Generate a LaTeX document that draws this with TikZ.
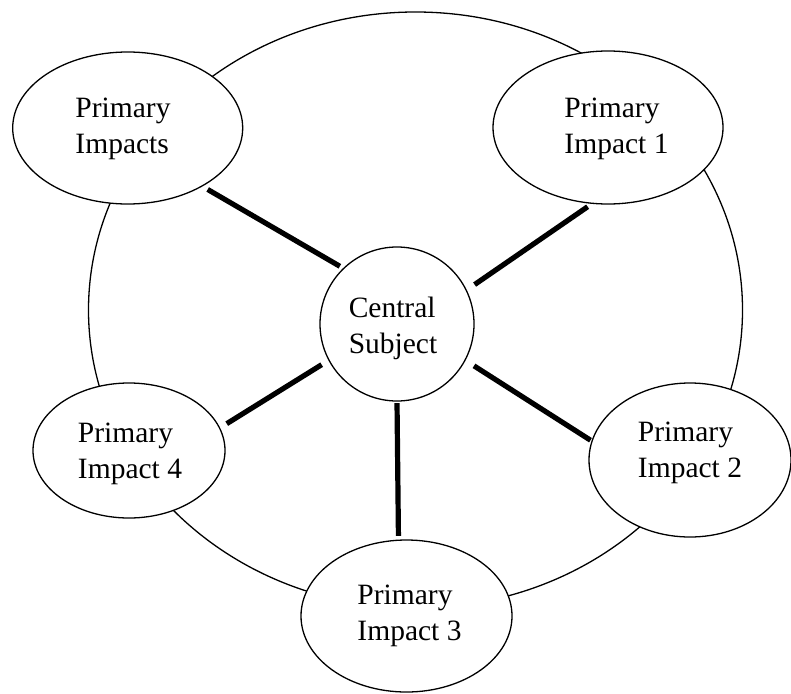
\documentclass[tikz,border=0pt]{standalone}
\usepackage{fontspec}
\setmainfont{Liberation Serif}
\usetikzlibrary{shapes.geometric}
\begin{document}
\begin{tikzpicture}[x=1pt,y=-1pt,
  ring/.style={line width=1.3pt},
  bubble/.style={ellipse, draw, line width=1.3pt, fill=white, inner sep=0pt},
  hub/.style={circle, draw, line width=1.3pt, fill=white, inner sep=0pt, minimum size=154pt},
  spoke/.style={line width=5.2pt},
  txt/.style={align=left, inner sep=0pt, font=\fontsize{29.5}{35.5}\selectfont}]
\useasboundingbox (0,0) rectangle (791,693);
\draw[ring] (415.5,310) ellipse [x radius=327pt, y radius=298pt];
\node[bubble, minimum width=230pt, minimum height=152pt] (pi) at (127.7,128) {};
\node[bubble, minimum width=230pt, minimum height=153pt] (e1) at (608,127.5) {};
\node[bubble, minimum width=202pt, minimum height=154pt] (e2) at (690,460) {};
\node[bubble, minimum width=211pt, minimum height=152pt] (e3) at (406.5,616) {};
\node[bubble, minimum width=192pt, minimum height=135pt] (e4) at (129,450.5) {};
\node[hub] (c) at (397,324) {};
\node[txt] (pit) at (123,129) {Primary\\Impacts};
\node[txt] (e1t) at (616.5,129) {Primary\\Impact 1};
\node[txt] (e2t) at (690,452.7) {Primary\\Impact 2};
\node[txt] (e3t) at (409.5,616) {Primary\\Impact 3};
\node[txt] (e4t) at (130,453.7) {Primary\\Impact 4};
\node[txt] (ct) at (393,328.3) {Central\\Subject};
\draw[spoke, shorten <=6pt, shorten >=3.7pt] (pi.-38) -- (c.134.5);
\draw[spoke, shorten <=5pt, shorten >=9.5pt] (e1.-102.6) -- (c.26.6);
\draw[spoke, shorten <=10pt, shorten >=1.2pt] (c.-28.6) -- (e2.169.8);
\draw[spoke, shorten <=7.8pt, shorten >=8pt] (e4.14.6) -- (c.208.7);
\draw[spoke, shorten <=1.5pt, shorten >=3.8pt] (c.-90) -- (e3.96.4);
\end{tikzpicture}
\end{document}
